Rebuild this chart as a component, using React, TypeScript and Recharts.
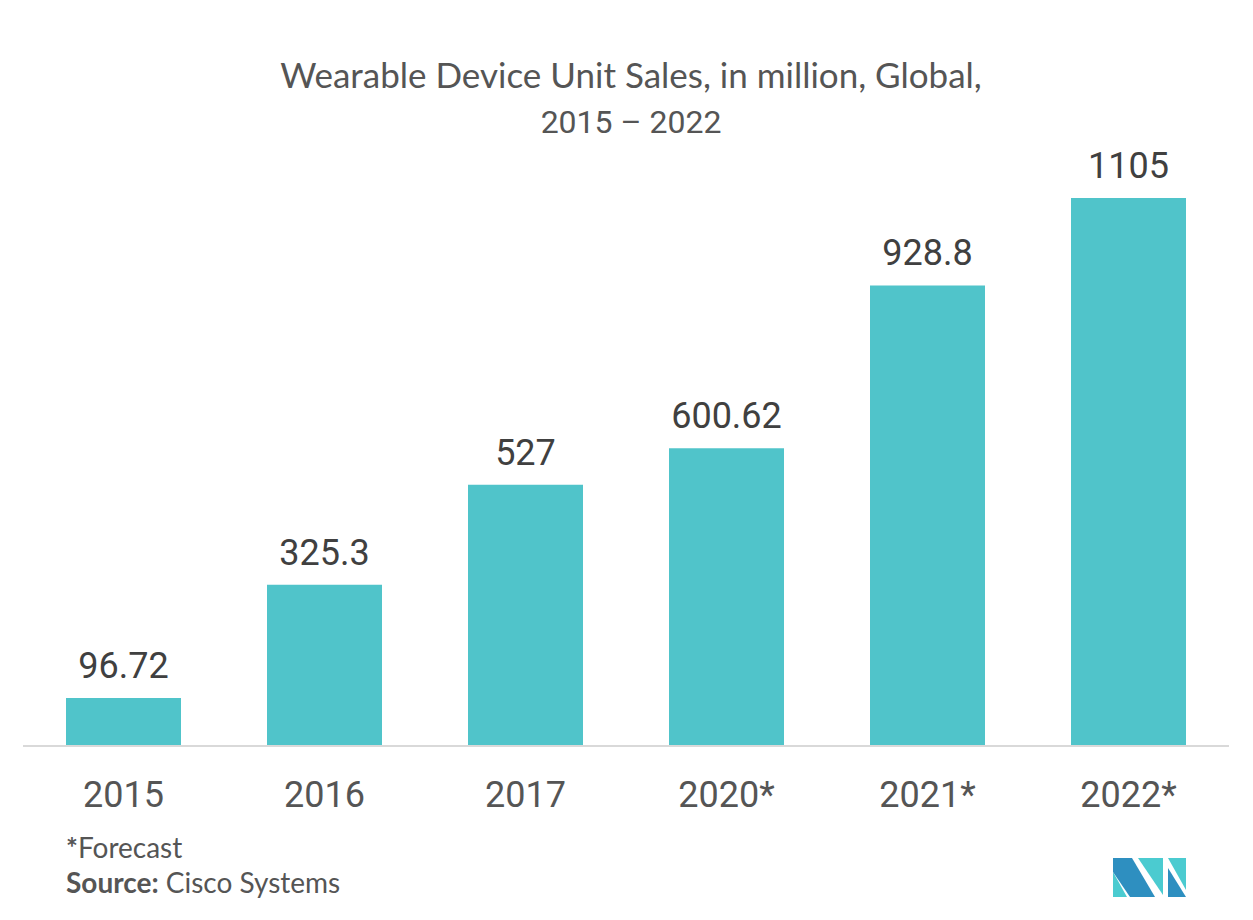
import React from 'react'
import { BarChart, Bar, XAxis, YAxis, LabelList } from 'recharts'

const years = ['2015', '2016', '2017', '2020*', '2021*', '2022*']
const sales = [96.72, 325.3, 527, 600.62, 928.8, 1105]

const titleLine1 = 'Wearable Device Unit Sales, in million, Global,'
const titleLine2 = '2015 – 2022'

const data = years.map((year, i) => ({ year, sales: sales[i] }))

const YearTick = ({ x, y, payload }: any) => (
  <text
    x={x}
    y={y + 61}
    textAnchor="middle"
    fill="#555555"
    fontFamily="Roboto, sans-serif"
    fontSize={36}
  >
    {payload.value}
  </text>
)

export default function App() {
  return (
    <div style={{ position: 'absolute', left: 0, top: 0, width: 1253, height: 920, background: '#fff' }}>
      <BarChart
        width={1253}
        height={920}
        data={data}
        margin={{ top: 151, right: 24, left: 23, bottom: 0 }}
      >
        <XAxis
          dataKey="year"
          axisLine={{ stroke: '#d9d9d9', strokeWidth: 2 }}
          tickLine={false}
          tickSize={0}
          tickMargin={0}
          height={174}
          tick={<YearTick />}
          interval={0}
        />
        <YAxis hide domain={[0, 1200]} />
        <Bar dataKey="sales" fill="#50c4ca" barSize={115} isAnimationActive={false}>
          <LabelList
            dataKey="sales"
            position="top"
            offset={20}
            fill="#404040"
            fontFamily="Roboto, sans-serif"
            fontSize={36}
          />
        </Bar>
      </BarChart>

      {/* title, footnote, logo */}
      <svg
        width={1253}
        height={920}
        style={{ position: 'absolute', left: 0, top: 0, pointerEvents: 'none' }}
      >
        <text x={631} y={88} textAnchor="middle" fill="#555555" fontFamily="Lato, sans-serif" fontSize={35}>
          {titleLine1}
        </text>
        <text x={631} y={133} textAnchor="middle" fill="#555555" fontFamily="Roboto, sans-serif" fontSize={32}>
          {titleLine2}
        </text>
        <text x={66} y={858} fill="#555555" fontFamily="Lato, sans-serif" fontSize={28}>
          <tspan fontWeight="bold">*</tspan>Forecast
        </text>
        <text x={66} y={893} fill="#555555" fontFamily="Lato, sans-serif" fontSize={28}>
          <tspan fontWeight="bold">Source:</tspan> Cisco Systems
        </text>
        <polygon points="1113,872 1113,897 1127,897" fill="#4bcbd0" />
        <polygon points="1113,858 1132,858 1155,897 1130,897 1113,872" fill="#2e8fc0" />
        <polygon points="1138,858 1163,858 1163,895" fill="#4bcbd0" />
        <polygon points="1168,858 1186,858 1186,890" fill="#4bcbd0" />
        <polygon points="1168,868 1186,897 1168,897" fill="#2e8fc0" />
      </svg>
    </div>
  )
}
